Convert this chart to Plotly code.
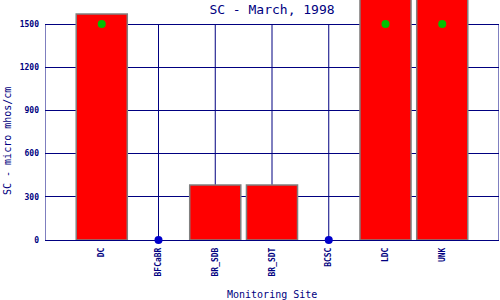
import plotly.graph_objects as go

sites = ["DC", "BFCaBR", "BR_SDB", "BR_SDT", "BCSC", "LDC", "UNK"]
sc_values = [1570, None, 382, 382, None, 2100, 2300]
standard_values = [1500, None, None, None, None, 1500, 1500]
missing_values = [None, 0, None, None, 0, None, None]
y_ticks = [0, 300, 600, 900, 1200, 1500]

NAVY = "#000080"
FONT = "DejaVu Sans Mono"
grid_top = max(y_ticks)
x_range = [-1, len(sites)]

fig = go.Figure()
fig.add_trace(go.Bar(
    x=sites, y=sc_values, width=0.9,
    marker=dict(color="#FF0000", line=dict(color="#808080", width=1.5)),
    showlegend=False,
))
fig.add_trace(go.Scatter(
    x=sites, y=standard_values, mode="markers",
    marker=dict(color="#00C000", size=8, symbol="circle"),
    showlegend=False, cliponaxis=False,
))
fig.add_trace(go.Scatter(
    x=sites, y=missing_values, mode="markers",
    marker=dict(color="#0000CC", size=8, symbol="circle"),
    showlegend=False, cliponaxis=False,
))

# vertical grid lines and frame sides only up to the top tick
shapes = []
for i in list(range(len(sites))):
    shapes.append(dict(type="line", xref="x", yref="y", x0=i, x1=i, y0=0, y1=grid_top,
                       line=dict(color=NAVY, width=1), layer="below"))
for xe in x_range:
    shapes.append(dict(type="line", xref="x", yref="y", x0=xe, x1=xe, y0=0, y1=grid_top,
                       line=dict(color=NAVY, width=1), layer="below"))

fig.update_layout(
    width=500, height=300,
    margin=dict(l=45, r=1, t=0, b=60, autoexpand=False),
    paper_bgcolor="white", plot_bgcolor="white",
    font=dict(family=FONT, color=NAVY),
    title=dict(text="SC - March, 1998", x=0.5, xref="paper",
               y=1 - 9 / 300, yref="container", yanchor="middle",
               font=dict(family=FONT, size=13, color=NAVY)),
    xaxis=dict(
        type="category", range=x_range,
        showgrid=False,
        tickangle=-90, tickfont=dict(family=FONT, size=8, color=NAVY, weight="bold"),
        ticks="", ticklabelstandoff=5,
        showline=False, zeroline=False,
    ),
    yaxis=dict(
        range=[0, grid_top * 240 / 216], tickvals=y_ticks,
        showgrid=True, gridcolor=NAVY, gridwidth=1,
        zeroline=True, zerolinecolor=NAVY, zerolinewidth=1,
        showline=False,
        tickfont=dict(family=FONT, size=8, color=NAVY, weight="bold"),
        ticks="", ticklabelstandoff=5,
    ),
    shapes=shapes,
    annotations=[
        dict(text="SC - micro mhos/cm", textangle=-90, xref="paper", yref="paper",
             x=(7 - 45) / 454, y=(240 - 141) / 240, xanchor="center", yanchor="middle",
             showarrow=False, font=dict(family=FONT, size=10, color=NAVY)),
        dict(text="Monitoring Site", xref="paper", yref="paper",
             x=0.5, y=(240 - 294) / 240, xanchor="center", yanchor="middle",
             showarrow=False, font=dict(family=FONT, size=10, color=NAVY)),
    ],
)

fig.write_html("out.html")
